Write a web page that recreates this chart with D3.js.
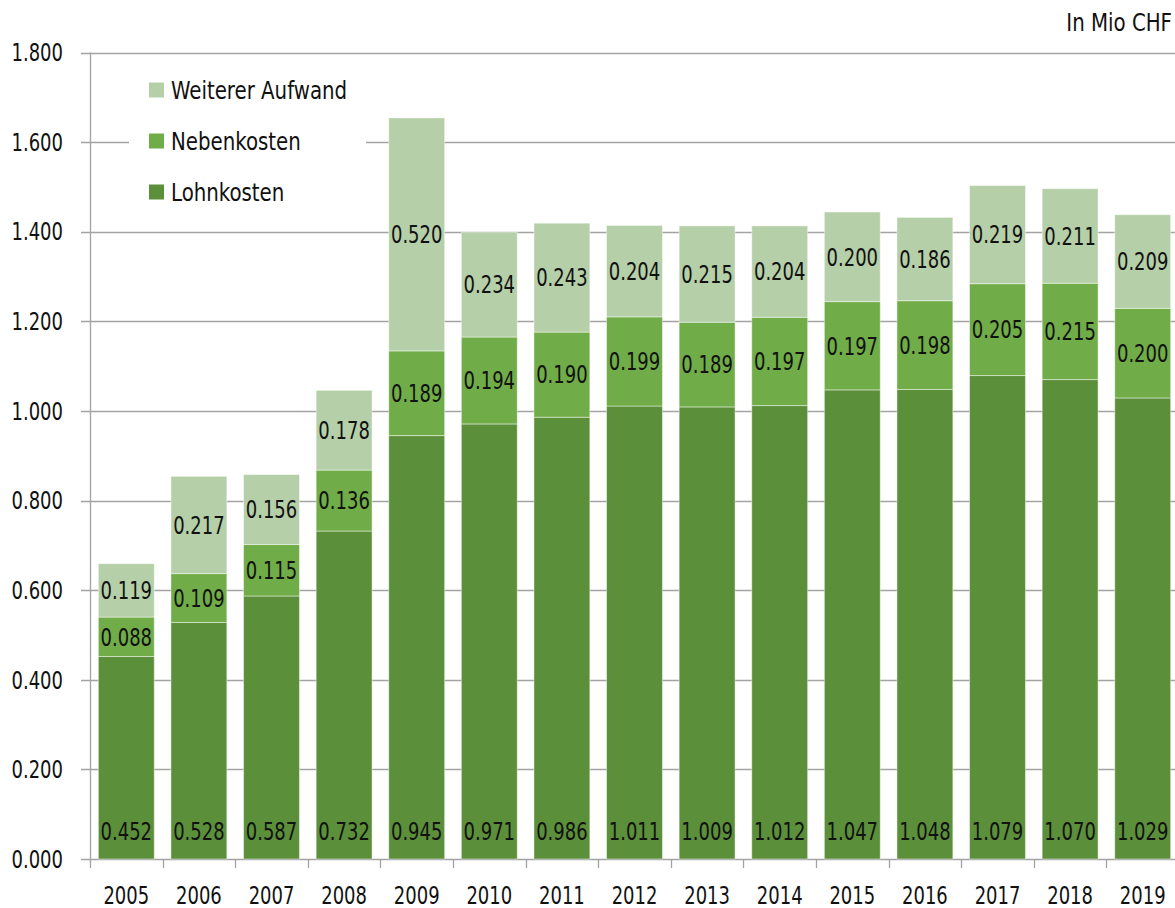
<!DOCTYPE html>
<html>
<head>
<meta charset="utf-8">
<script src="https://cdn.jsdelivr.net/npm/d3@7"></script>
<style>
  body { margin: 0; background: #fff; }
  svg text { font-family: "Liberation Sans Narrow", "DejaVu Sans Condensed", sans-serif; fill: #111; font-size: 25px; }
</style>
</head>
<body>
<script>
// data (in Mio CHF)
var years = ['2005','2006','2007','2008','2009','2010','2011','2012','2013','2014','2015','2016','2017','2018','2019'];
var lohnkosten = [0.452,0.528,0.587,0.732,0.945,0.971,0.986,1.011,1.009,1.012,1.047,1.048,1.079,1.070,1.029];
var nebenkosten = [0.088,0.109,0.115,0.136,0.189,0.194,0.190,0.199,0.189,0.197,0.197,0.198,0.205,0.215,0.200];
var weitererAufwand = [0.119,0.217,0.156,0.178,0.520,0.234,0.243,0.204,0.215,0.204,0.200,0.186,0.219,0.211,0.209];
var seriesNames = ['Lohnkosten','Nebenkosten','Weiterer Aufwand'];
var yTicks = [0,0.2,0.4,0.6,0.8,1.0,1.2,1.4,1.6,1.8];

var colors = ['#5b8f3a','#70ac47','#b5cfa8'];

var W = 1175, H = 908;
var plotL = 90, plotR = 1179, plotT = 52.5, plotB = 859;
var numScale = 0.8, wordScale = 0.88;

var svg = d3.select('body').append('svg')
  .attr('width', W)
  .attr('height', H);

var x = d3.scaleBand().domain(years).range([plotL, plotR]).paddingInner(0.23).paddingOuter(0.115);
var y = d3.scaleLinear().domain([0, 1.8]).range([plotB, plotT]);
var fmt = d3.format('.3f');

// place a text with narrow horizontal scaling
function place(sel, fx, fy, sx) {
  sel.attr('transform', function(d, i) {
    return 'translate(' + fx(d, i) + ',' + fy(d, i) + ') scale(' + sx + ',1)';
  }).attr('dy', '0.35em');
}

// gridlines
svg.append('g').selectAll('line')
  .data(yTicks)
  .enter()
  .append('line')
  .attr('x1', plotL - 9)
  .attr('x2', W)
  .attr('y1', function(d) { return Math.round(y(d)) + 0.5; })
  .attr('y2', function(d) { return Math.round(y(d)) + 0.5; })
  .attr('stroke', '#a3a3a3')
  .attr('stroke-width', 1.3);

// y labels
svg.append('g').selectAll('text')
  .data(yTicks)
  .enter()
  .append('text')
  .attr('text-anchor', 'end')
  .call(place, function() { return 63; }, function(d) { return y(d); }, numScale)
  .text(function(d) { return fmt(d); });

// stacked data
var table = years.map(function(yr, i) {
  return { year: yr, Lohnkosten: lohnkosten[i], Nebenkosten: nebenkosten[i], 'Weiterer Aufwand': weitererAufwand[i] };
});
var stacked = d3.stack().keys(seriesNames)(table);

// legend background (covers gridline)
svg.append('rect')
  .attr('x', 129).attr('y', 62)
  .attr('width', 237).attr('height', 155)
  .attr('fill', '#fff');

var layers = svg.append('g').selectAll('g')
  .data(stacked)
  .enter()
  .append('g')
  .attr('fill', function(d, i) { return colors[i]; });

layers.selectAll('rect')
  .data(function(d) { return d; })
  .enter()
  .append('rect')
  .attr('x', function(d) { return x(d.data.year); })
  .attr('width', x.bandwidth())
  .attr('y', function(d) { return y(d[1]); })
  .attr('height', function(d) { return y(d[0]) - y(d[1]); })
  .attr('stroke', 'rgba(255,255,255,0.45)')
  .attr('stroke-width', 1);

// value labels
stacked.forEach(function(layer, li) {
  svg.append('g').selectAll('text')
    .data(layer)
    .enter()
    .append('text')
    .attr('text-anchor', 'middle')
    .call(place,
      function(d) { return x(d.data.year) + x.bandwidth() / 2; },
      function(d) {
        if (li === 0) return y(0) - 28;
        return (y(d[0]) + y(d[1])) / 2;
      }, numScale)
    .text(function(d) { return fmt(d[1] - d[0]); });
});

// axis lines
svg.append('line')
  .attr('x1', plotL + 0.5).attr('x2', plotL + 0.5)
  .attr('y1', plotT).attr('y2', plotB + 9)
  .attr('stroke', '#a3a3a3').attr('stroke-width', 1.3);

var xTicks = years.map(function(yr) { return x(yr) - x.step() * x.paddingInner() / 2; }).slice(1);
svg.append('g').selectAll('line')
  .data(xTicks)
  .enter()
  .append('line')
  .attr('x1', function(d) { return Math.round(d) + 0.5; })
  .attr('x2', function(d) { return Math.round(d) + 0.5; })
  .attr('y1', plotB)
  .attr('y2', plotB + 9)
  .attr('stroke', '#a3a3a3').attr('stroke-width', 1.3);

// x labels
svg.append('g').selectAll('text')
  .data(years)
  .enter()
  .append('text')
  .attr('text-anchor', 'middle')
  .call(place, function(d) { return x(d) + x.bandwidth() / 2; }, function() { return 895; }, numScale)
  .text(function(d) { return d; });

// legend
var legendOrder = [2, 1, 0];
var legend = svg.append('g').selectAll('g')
  .data(legendOrder)
  .enter()
  .append('g')
  .attr('transform', function(d, i) { return 'translate(149,' + (90 + i * 51) + ')'; });

legend.append('rect')
  .attr('x', 0).attr('y', -7.5)
  .attr('width', 15).attr('height', 15)
  .attr('fill', function(d) { return colors[d]; });

legend.append('text')
  .call(place, function() { return 22; }, function() { return 0; }, wordScale)
  .text(function(d) { return seriesNames[d]; });

// unit
svg.append('text')
  .attr('text-anchor', 'end')
  .call(place, function() { return 1172; }, function() { return 22; }, wordScale)
  .text('In Mio CHF');
</script>
</body>
</html>
